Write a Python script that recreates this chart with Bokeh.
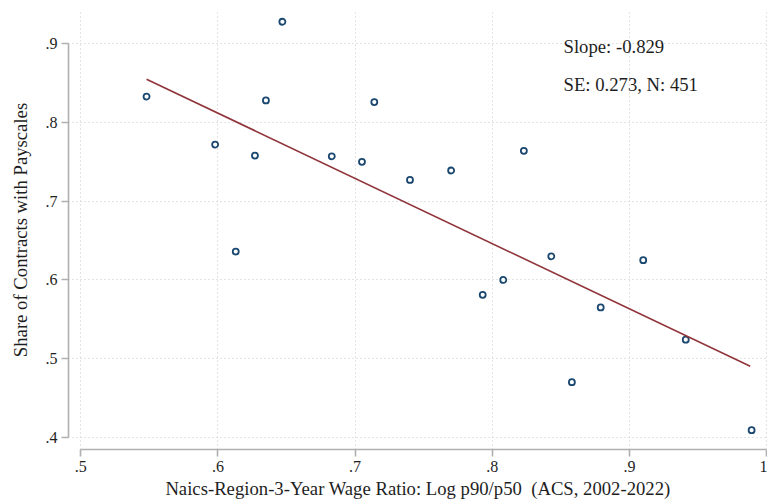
from bokeh.plotting import figure
from bokeh.models import FixedTicker, Range1d, Label, ColumnDataSource
from bokeh.embed import file_html
from bokeh.resources import INLINE

# Binned scatter data
x_bins = [0.548, 0.598, 0.613, 0.627, 0.635, 0.647, 0.683, 0.705, 0.714, 0.740,
          0.770, 0.793, 0.808, 0.823, 0.843, 0.858, 0.879, 0.910, 0.941, 0.989]
y_bins = [0.833, 0.772, 0.636, 0.758, 0.828, 0.928, 0.757, 0.750, 0.826, 0.727,
          0.739, 0.581, 0.600, 0.764, 0.630, 0.470, 0.565, 0.625, 0.524, 0.409]

# Linear fit
slope = -0.829
se = 0.273
n_obs = 451
fit_x = [0.548, 0.988]
fit_y = [0.855, 0.855 + slope * (0.988 - 0.548)]

x_ticks = [0.5, 0.6, 0.7, 0.8, 0.9, 1.0]
x_tick_labels = [".5", ".6", ".7", ".8", ".9", "1"]
y_ticks = [0.4, 0.5, 0.6, 0.7, 0.8, 0.9]
y_tick_labels = [".4", ".5", ".6", ".7", ".8", ".9"]

x_title = "Naics-Region-3-Year Wage Ratio: Log p90/p50\u00a0 (ACS, 2002-2022)"
y_title = "Share of Contracts with Payscales"

FONT = "Liberation Serif"
NAVY = "#1a476f"
MAROON = "#90353b"
AXIS_GREY = "#b0b0b0"
GRID_GREY = "#c8c8c8"
TEXT = "#1e1e1e"

p = figure(width=767, height=504, output_backend="svg", toolbar_location=None,
           x_range=Range1d(0.49111, 1.00058), y_range=Range1d(0.3845, 0.94231),
           min_border_left=68, min_border_right=0, min_border_top=10, min_border_bottom=55)
p.outline_line_color = None
p.background_fill_color = "white"
p.border_fill_color = "white"

src = ColumnDataSource(dict(x=x_bins, y=y_bins))
p.scatter("x", "y", source=src, marker="circle", size=6, fill_color="white",
          line_color=NAVY, line_width=1.8)
p.line(fit_x, fit_y, line_color=MAROON, line_width=1.6)

# axes
for ax, ticks, labels, title, std in ((p.xaxis[0], x_ticks, x_tick_labels, x_title, 3),
                                      (p.yaxis[0], y_ticks, y_tick_labels, y_title, 12)):
    ax.ticker = FixedTicker(ticks=ticks)
    ax.major_label_overrides = {t: l for t, l in zip(ticks, labels)}
    ax.bounds = (ticks[0], ticks[-1])
    ax.axis_line_color = AXIS_GREY
    ax.axis_line_width = 1.6
    ax.major_tick_line_color = AXIS_GREY
    ax.major_tick_line_width = 1.6
    ax.major_tick_out = 7
    ax.major_tick_in = 0
    ax.minor_tick_line_color = None
    ax.major_label_text_font = FONT
    ax.major_label_text_font_size = "16px"
    ax.major_label_text_color = TEXT
    ax.major_label_standoff = 4
    ax.axis_label = title
    ax.axis_label_text_font = FONT
    ax.axis_label_text_font_size = "18.7px"
    ax.axis_label_text_font_style = "normal"
    ax.axis_label_text_color = TEXT
    ax.axis_label_standoff = std

for g, ticks in ((p.xgrid[0], x_ticks), (p.ygrid[0], y_ticks)):
    g.ticker = FixedTicker(ticks=ticks)
    g.grid_line_color = GRID_GREY
    g.grid_line_dash = "1 3"
    g.grid_line_width = 1

p.add_layout(Label(x=0.8519, y=0.8966, text=f"Slope: {slope:.3f}", text_font=FONT,
                   text_font_size="18.7px", text_color=TEXT, text_baseline="middle"))
p.add_layout(Label(x=0.8519, y=0.8483, text=f"SE: {se:.3f}, N: {n_obs}", text_font=FONT,
                   text_font_size="18.7px", text_color=TEXT, text_baseline="middle"))

open("out.html", "w").write(file_html(p, INLINE))
